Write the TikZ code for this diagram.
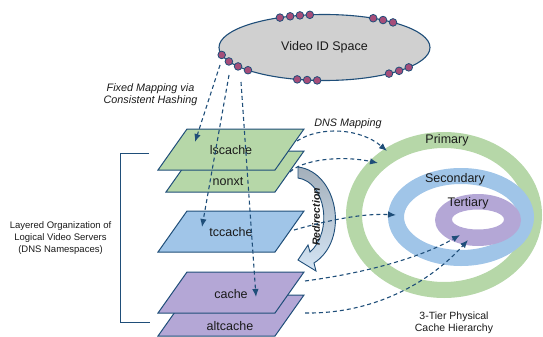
\documentclass[tikz,border=0pt]{standalone}
\usepackage{fontspec}
\setmainfont{Liberation Sans}
\usetikzlibrary{shapes.geometric,arrows.meta,calc}

\definecolor{linec}{HTML}{1F4E79}
\definecolor{greenc}{HTML}{B6D7A8}
\definecolor{bluec}{HTML}{A0C5E8}
\definecolor{purplec}{HTML}{B4A7D6}
\definecolor{dotc}{HTML}{A64D79}
\definecolor{grayc}{HTML}{D0D0D0}
\definecolor{textc}{HTML}{1A1A1A}

\tikzset{
    slab/.style={draw=linec, line width=1pt, line join=miter},
    lbl/.style={font=\fontsize{12.5}{15}\selectfont, text=textc, inner sep=0pt},
    note/.style={font=\fontsize{10.8}{12}\selectfont\itshape, text=textc, align=center, inner sep=0pt},
    small/.style={font=\fontsize{9.5}{12}\selectfont, text=textc, align=center, inner sep=0pt},
    map/.style={draw=linec, line width=1.1pt, dash pattern=on 4pt off 3pt,
        -{Latex[length=8pt,width=6.5pt]}}
}

\begin{document}
\begin{tikzpicture}[x=1pt, y=-1pt]
    \useasboundingbox (0,0) rectangle (543,337);

    % 3-tier rings
    \draw[greenc, line width=16pt] (444,215) ellipse (90 and 75);
    \draw[bluec, line width=16pt] (461,217) ellipse (65 and 41);
    \fill[purplec, even odd rule] (478,220) ellipse (43 and 26)
        (478,219.5) ellipse (26 and 10);

    \node[lbl] (primary) at (447,140) {Primary};
    \node[lbl] (secondary) at (455,179) {Secondary};
    \node[lbl] (tertiary) at (468,203) {Tertiary};
    \node[small, font=\fontsize{10.5}{12}\selectfont] (tier) at (454,323) {3-Tier Physical\\Cache Hierarchy};

    % video id space
    \node[ellipse, draw=linec, fill=grayc, line width=1.1pt, minimum width=211pt,
        minimum height=66pt, lbl] (vidspace) at (324.5,47.5) {Video ID Space};
    \foreach \a in {245,251,256.5,262,297.5,303.7,310.5,167,155,145,136.5,105,99.5,94,52.3,45,37}
        \filldraw[fill=dotc, draw=linec, line width=0.8pt]
            ($(vidspace.center)+({105.5*cos(\a)},{33*sin(\a)})$) circle (3.8pt);

    % layers
    \draw[slab, fill=greenc] (166,192) -- ++(109,0) -- ++(29,-41) -- ++(-109,0) -- cycle;
    \draw[slab, fill=greenc] (158,170) -- ++(117,0) -- ++(29,-41) -- ++(-117,0) -- cycle;
    \draw[slab, fill=bluec] (158,252) -- ++(117,0) -- ++(29,-41) -- ++(-117,0) -- cycle;
    \draw[slab, fill=purplec] (158,336) -- ++(117,0) -- ++(29,-41) -- ++(-117,0) -- cycle;
    \draw[slab, fill=purplec] (158,313) -- ++(117,0) -- ++(29,-41) -- ++(-117,0) -- cycle;

    \node[lbl] (lscache) at (231,150) {lscache};
    \node[lbl] (nonxt) at (228,182) {nonxt};
    \node[lbl] (tccache) at (231,232) {tccache};
    \node[lbl] (cache) at (231,294) {cache};
    \node[lbl] (altcache) at (230,326) {altcache};

    % bracket
    \draw[linec, line width=1pt] (149,153) -- (120,153) -- (120,322) -- (150,322);
    \node[small] (layered) at (60.5,238) {Layered Organization of\\Logical Video Servers\\(DNS Namespaces)};

    \node[note] (fixed) at (150.5,95) {Fixed Mapping via\\Consistent Hashing};
    \node[note] (dnsmap) at (348,124) {DNS Mapping};

    % redirection
    \shade[top color=bluec!40!gray!80, bottom color=bluec!45, draw=linec, line width=0.9pt]
        (298,167) -- (298,178) .. controls (326,182) and (333,232) .. (310,252)
        -- (308,245) -- (298,260) -- (316,271) -- (314,263)
        .. controls (350,240) and (338,172) .. (298,167) -- cycle;
    \node[rotate=90, font=\fontsize{10.5}{12}\selectfont\bfseries\itshape, text=textc] (redir) at (316,217) {Redirection};

    % hashing arrows
    \coordinate (h1) at (220,65);
    \coordinate (h2) at (229,75);
    \coordinate (h3) at (241,82);
    \coordinate (t1) at (195,142);
    \coordinate (t2) at (202,227);
    \coordinate (t3) at (256,297);
    \draw[map] (h1) -- (t1);
    \draw[map] (h2) -- (t2);
    \draw[map] (h3) -- (t3);

    % dns arrows
    \coordinate (s1) at (297,141);
    \coordinate (s2) at (290,172);
    \coordinate (s3) at (294,230);
    \coordinate (s4) at (305,281);
    \coordinate (s5) at (305,313);
    \coordinate (e1) at (387,151);
    \coordinate (e2) at (378,163);
    \coordinate (e3) at (396,215);
    \coordinate (e4) at (460,235);
    \coordinate (e5) at (468,240);
    \draw[map] (s1) .. controls (320,126) and (360,128) .. (e1);
    \draw[map] (s2) .. controls (302,160) and (340,155) .. (e2);
    \draw[map] (s3) .. controls (322,222) and (360,213) .. (e3);
    \draw[map] (s4) .. controls (365,273) and (420,258) .. (e4);
    \draw[map] (s5) .. controls (375,314) and (430,282) .. (e5);
\end{tikzpicture}
\end{document}
